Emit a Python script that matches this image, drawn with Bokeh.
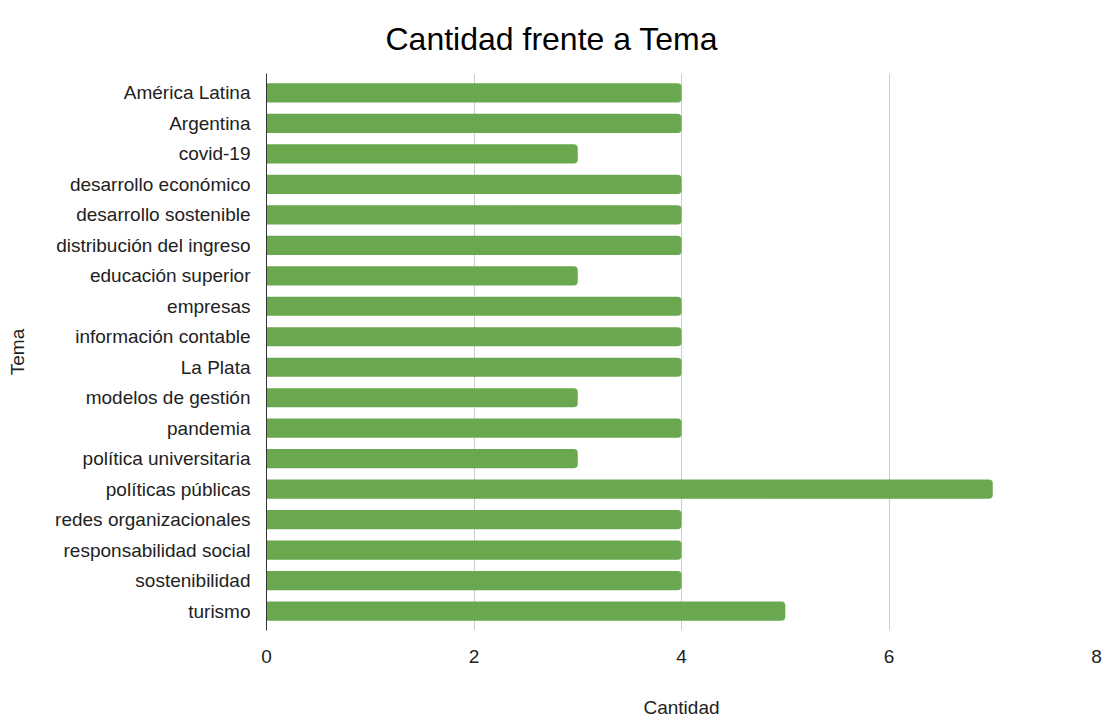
from bokeh.plotting import figure
from bokeh.models import FactorRange, Range1d, Title, FixedTicker
from bokeh.embed import file_html
from bokeh.resources import INLINE

temas = ["América Latina", "Argentina", "covid-19", "desarrollo económico",
         "desarrollo sostenible", "distribución del ingreso", "educación superior",
         "empresas", "información contable", "La Plata", "modelos de gestión",
         "pandemia", "política universitaria", "políticas públicas",
         "redes organizacionales", "responsabilidad social", "sostenibilidad", "turismo"]
cantidad = [4, 4, 3, 4, 4, 4, 3, 4, 4, 4, 3, 4, 3, 7, 4, 4, 4, 5]
x_ticks = [0, 2, 4, 6, 8]

FONT = "Liberation Sans"

p = figure(width=1108, height=720, output_backend="svg", toolbar_location=None,
           y_range=FactorRange(factors=list(reversed(temas)), range_padding=0.135,
                               range_padding_units="absolute"),
           x_range=Range1d(0, 8),
           min_border_left=266, min_border_right=12, min_border_top=73, min_border_bottom=88)
p.title = None
t = Title(text="Cantidad frente a Tema", align="left", offset=119,
          text_font=FONT, text_font_size="32px", text_font_style="normal",
          text_color="#000000", standoff=34)
p.add_layout(t, "above")

p.hbar(y=temas, right=cantidad, left=0, height=0.63, fill_color="#6aa84f",
       line_color=None, border_radius=(0, 4, 4, 0))

p.outline_line_color = None
p.ygrid.grid_line_color = None
p.xgrid.grid_line_color = "#cccccc"
p.xgrid.grid_line_width = 1
p.xaxis.ticker = FixedTicker(ticks=x_ticks)
p.xaxis.axis_line_color = None
p.xaxis.major_tick_line_color = None
p.xaxis.minor_tick_line_color = None
p.xaxis.major_label_text_font = FONT
p.xaxis.major_label_text_font_size = "19px"
p.xaxis.major_label_text_color = "#222222"
p.xaxis.major_label_standoff = 13
p.xaxis.axis_label = "Cantidad"
p.xaxis.axis_label_text_font = FONT
p.xaxis.axis_label_text_font_size = "19px"
p.xaxis.axis_label_text_font_style = "normal"
p.xaxis.axis_label_text_color = "#222222"
p.xaxis.axis_label_standoff = 31

p.yaxis.axis_line_color = "#333333"
p.yaxis.axis_line_width = 1
p.yaxis.major_tick_line_color = None
p.yaxis.minor_tick_line_color = None
p.yaxis.major_label_text_font = FONT
p.yaxis.major_label_text_font_size = "19px"
p.yaxis.major_label_text_color = "#222222"
p.yaxis.major_label_standoff = 10
p.yaxis.axis_label = "Tema"
p.yaxis.axis_label_text_font = FONT
p.yaxis.axis_label_text_font_size = "19px"
p.yaxis.axis_label_text_font_style = "normal"
p.yaxis.axis_label_text_color = "#222222"
p.yaxis.axis_label_standoff = 24

open("out.html", "w").write(file_html(p, INLINE))
